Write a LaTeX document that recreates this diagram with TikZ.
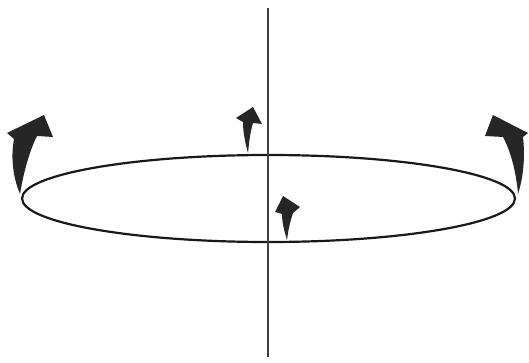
\documentclass[tikz,border=0pt]{standalone}
\begin{document}
\begin{tikzpicture}[x=1pt,y=-1pt,
  arrowfill/.style={fill=black!85,draw=none},
  ring/.style={draw=black!90,line width=2.2pt},
  axisline/.style={draw=black!75,line width=1.1pt}]
\useasboundingbox (0,0) rectangle (529,363);
% ellipse
\draw[ring] (268.5,198.5) ellipse [x radius=246.5, y radius=43.5];
% axis
\draw[axisline] (268,8) -- (268,357);
% left arrow
\fill[arrowfill] (20,194) .. controls (12,175) and (11,155) .. (14,139) -- (7,133) -- (44,115) -- (53,137) -- (37,136) .. controls (30,150) and (24,170) .. (20,194) -- cycle;
% right arrow
\fill[arrowfill] (518,194) .. controls (516,170) and (510,150) .. (503,137) -- (485,136) -- (493,115) -- (528,133) -- (523,137) .. controls (525,155) and (524,175) .. (518,194) -- cycle;
% upper middle arrow
\fill[arrowfill] (248,153) .. controls (246,145) and (243,135) .. (243,122) -- (236,118) -- (253,107) -- (262,124) -- (253,123) .. controls (250,133) and (249,143) .. (248,153) -- cycle;
% lower middle arrow
\fill[arrowfill] (287,240) .. controls (284,230) and (282,222) .. (282,214) -- (275,212) -- (283,196) -- (300,207) -- (293,213) .. controls (290,222) and (288,231) .. (287,240) -- cycle;
\end{tikzpicture}
\end{document}
